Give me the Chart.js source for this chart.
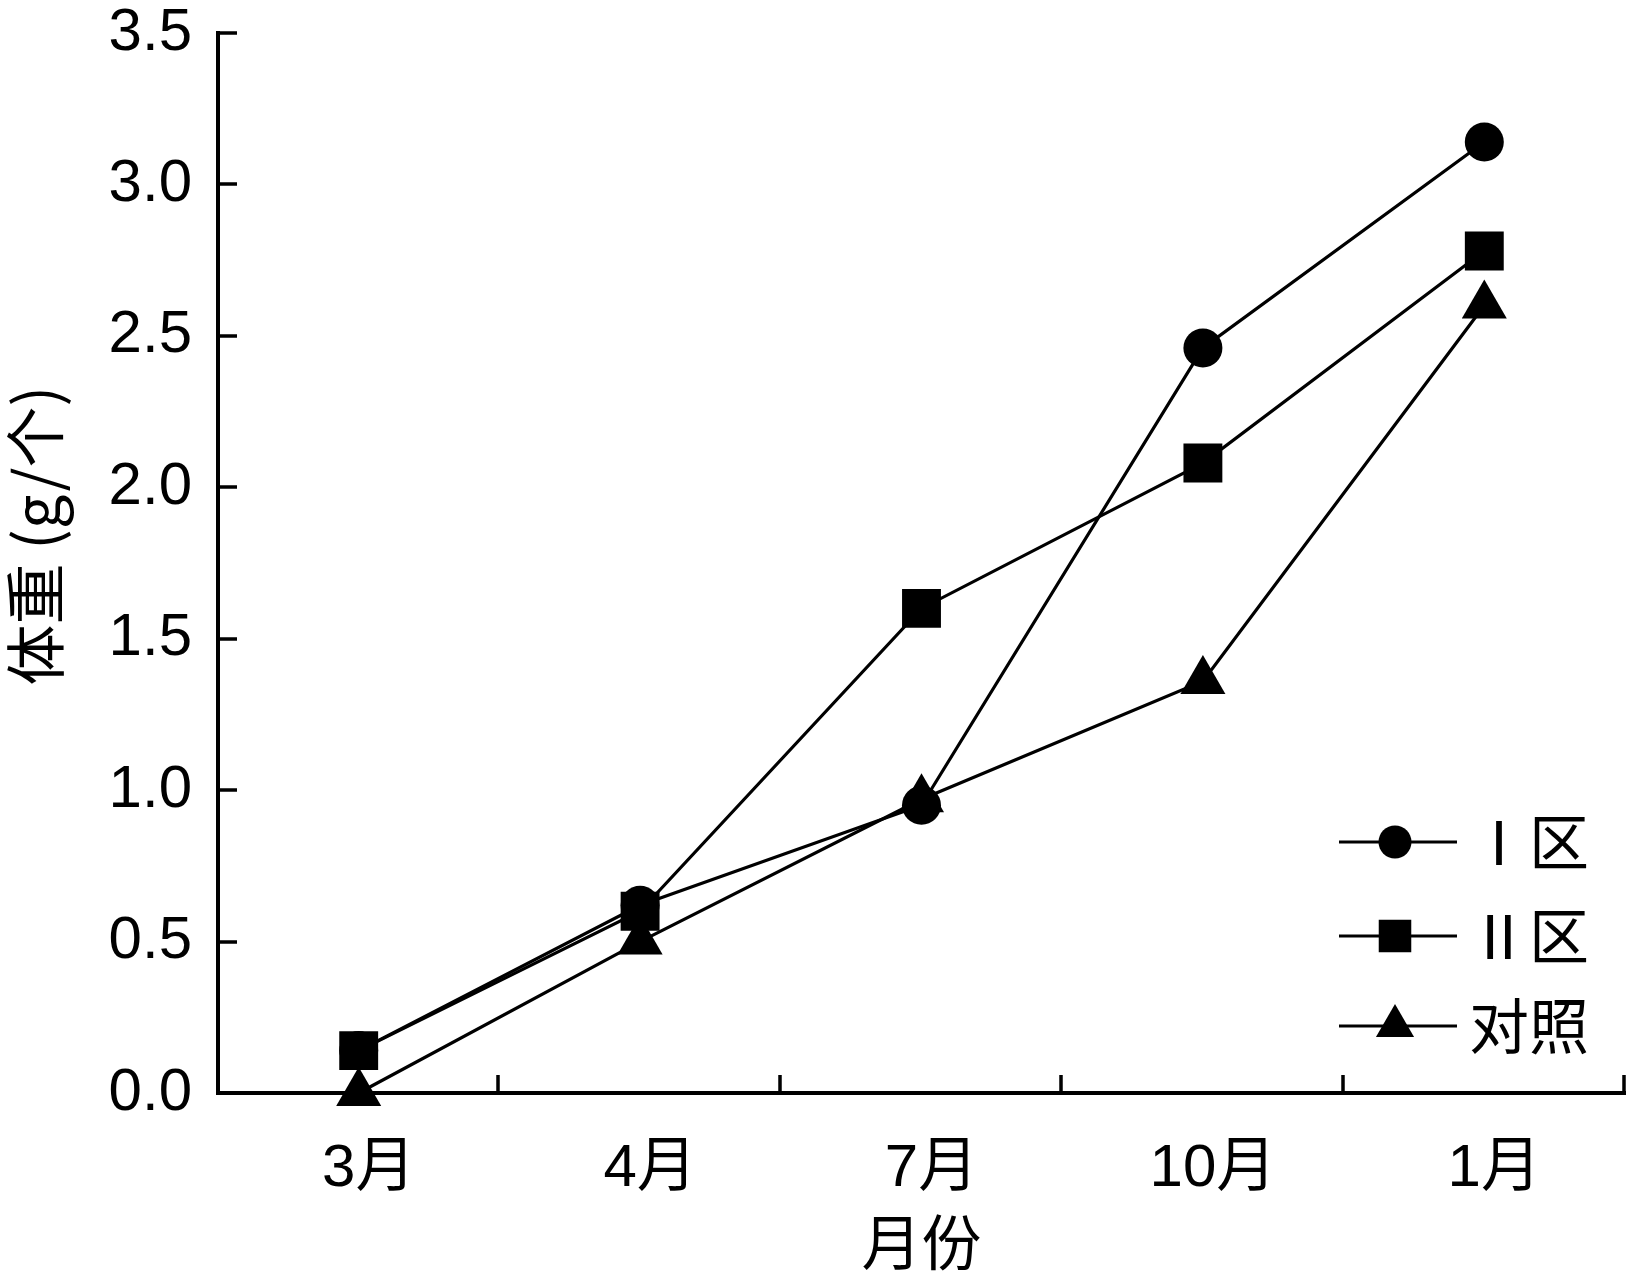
<!DOCTYPE html>
<html>
<head>
<meta charset="utf-8">
<script src="https://cdn.jsdelivr.net/npm/chart.js@4/dist/chart.umd.min.js"></script>
<style>
  html, body { margin: 0; padding: 0; background: #fff; }
  #wrap { width: 1629px; height: 1272px; }
</style>
</head>
<body>
<div id="wrap"><canvas id="weightChart" width="1629" height="1272"></canvas></div>
<script>
const categories = ["3月", "4月", "7月", "10月", "1月"];
const zone1 = [0.14, 0.62, 0.95, 2.46, 3.14];
const zone2 = [0.14, 0.6, 1.6, 2.08, 2.78];
const control = [0.0, 0.5, 0.97, 1.36, 2.6];
const yTicks = [0, 0.5, 1.0, 1.5, 2.0, 2.5, 3.0, 3.5];
const legendLabels = ["Ⅰ区", "Ⅱ区", "对照"];

const FONT = "'Liberation Sans', 'Noto Sans CJK SC', sans-serif";
const CJK = "'Noto Sans CJK SC', 'Liberation Sans', sans-serif";

// inward tick marks + legend with a line through the marker
const decorations = {
  id: "decorations",
  beforeDatasetsDraw(chart) {
    const { ctx, chartArea, scales } = chart;
    ctx.save();
    ctx.strokeStyle = "#000";
    ctx.lineWidth = 3.5;
    ctx.beginPath();
    scales.y.ticks.forEach((t) => {
      const y = Math.round(scales.y.getPixelForValue(t.value));
      ctx.moveTo(chartArea.left, y);
      ctx.lineTo(chartArea.left + 19, y);
    });
    for (let i = 1; i <= categories.length; i++) {
      const x = Math.round(scales.x.getPixelForValue(i - 0.5)) - 1;
      ctx.moveTo(x, chartArea.bottom);
      ctx.lineTo(x, chartArea.bottom - 18);
    }
    ctx.stroke();
    ctx.restore();
  },
  afterDraw(chart) {
    const { ctx, chartArea } = chart;
    const rows = [251, 157, 67];
    ctx.save();
    chart.data.datasets.forEach((ds, i) => {
      const y = chartArea.bottom - rows[i];
      const x0 = chartArea.right - 286;
      ctx.strokeStyle = "#000";
      ctx.lineWidth = 3;
      ctx.beginPath();
      ctx.moveTo(x0, y);
      ctx.lineTo(x0 + 118, y);
      ctx.stroke();
      ctx.fillStyle = "#000";
      Chart.helpers.drawPoint(ctx, {
        pointStyle: ds.pointStyle,
        radius: ds.legendRadius,
        borderWidth: 0,
      }, x0 + 56, y);
      ctx.font = "60px " + CJK;
      ctx.textBaseline = "middle";
      ctx.textAlign = "left";
      ctx.fillText(legendLabels[i], x0 + 130, y);
    });
    ctx.restore();
  },
};

new Chart(document.getElementById("weightChart"), {
  type: "line",
  data: {
    labels: categories,
    datasets: [
      {
        label: legendLabels[0],
        data: zone1,
        pointStyle: "circle",
        pointRadius: 19.5,
        legendRadius: 16.5,
        order: 1,
      },
      {
        label: legendLabels[1],
        data: zone2,
        pointStyle: "rect",
        pointRadius: 27.5,
        legendRadius: 23,
        order: 0,
      },
      {
        label: legendLabels[2],
        data: control,
        pointStyle: "triangle",
        pointRadius: 26,
        legendRadius: 22,
        order: 2,
      },
    ].map((d) => ({
      ...d,
      borderColor: "#000",
      backgroundColor: "#000",
      pointBackgroundColor: "#000",
      pointBorderWidth: 0,
      pointHoverRadius: d.pointRadius,
      borderWidth: 3.2,
      tension: 0,
      clip: false,
    })),
  },
  options: {
    responsive: false,
    devicePixelRatio: 1,
    animation: false,
    layout: {
      autoPadding: false,
      padding: { top: 33, right: 4, left: 0, bottom: 0 },
    },
    plugins: {
      legend: { display: false },
      tooltip: { enabled: false },
    },
    scales: {
      y: {
        min: 0,
        max: 3.5,
        afterBuildTicks: (scale) => {
          scale.ticks = yTicks.map((v) => ({ value: v }));
        },
        afterFit: (scale) => {
          scale.width = 218;
          scale.paddingTop = 0;
          scale.paddingBottom = 0;
        },
        border: { color: "#000", width: 4 },
        grid: { display: false, drawTicks: false },
        ticks: {
          callback: (v) => Number(v).toFixed(1),
          color: "#000",
          padding: 26,
          font: { family: FONT, size: 60 },
        },
        title: {
          display: true,
          text: "    体重 (g/个)",
          color: "#000",
          padding: { top: 5, bottom: 0 },
          font: { family: CJK, size: 61, lineHeight: 1 },
        },
      },
      x: {
        offset: true,
        afterFit: (scale) => {
          scale.height = 179;
          scale.paddingLeft = 0;
          scale.paddingRight = 0;
        },
        border: { color: "#000", width: 4 },
        grid: { display: false, drawTicks: false },
        ticks: {
          color: "#000",
          padding: 40,
          labelOffset: 10,
          maxRotation: 0,
          font: { family: FONT, size: 60 },
        },
        title: {
          display: true,
          text: "月份",
          color: "#000",
          padding: { top: 0, bottom: 0 },
          font: { family: CJK, size: 60, lineHeight: 1 },
        },
      },
    },
  },
  plugins: [decorations],
});
</script>
</body>
</html>
